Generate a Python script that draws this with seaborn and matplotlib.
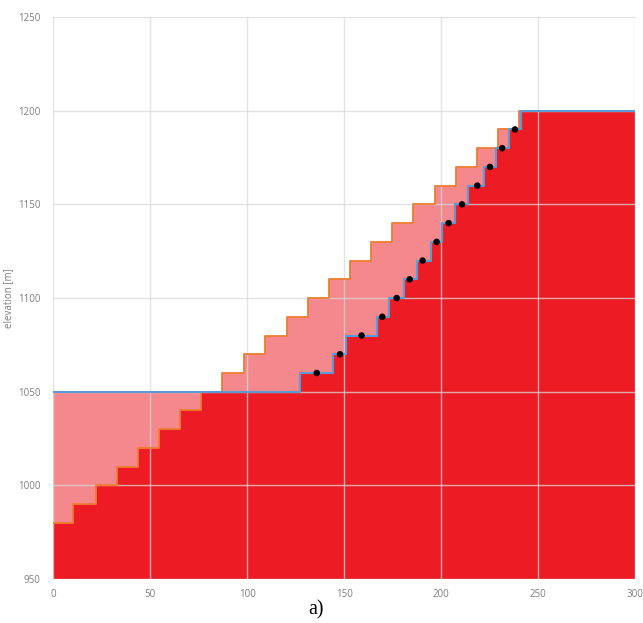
import numpy as np
import matplotlib
matplotlib.use("Agg")
import matplotlib.pyplot as plt
import seaborn as sns

# Bench staircase (orange): riser positions along the profile [m] and bench elevations [m]
bench_x = [0, 10.3, 21.8, 32.7, 43.5, 54.3, 65.5, 76.3, 87.1, 98.3, 109.3, 120.3,
           131.1, 142.1, 153.0, 163.6, 174.4, 185.2, 196.7, 207.5, 218.4, 229.4, 240.2, 300]
bench_z = [980, 990, 1000, 1010, 1020, 1030, 1040, 1050, 1060, 1070, 1080, 1090,
           1100, 1110, 1120, 1130, 1140, 1150, 1160, 1170, 1180, 1190, 1200, 1200]

# Final surface (blue)
final_x = [0, 127.2, 144.0, 150.7, 166.7, 173.2, 180.8, 187.7, 194.7, 200.5, 207.1,
           213.9, 222.0, 228.2, 234.9, 240.9, 300]
final_z = [1050, 1060, 1070, 1080, 1090, 1100, 1110, 1120, 1130, 1140, 1150,
           1160, 1170, 1180, 1190, 1200, 1200]

# Marked points on the final surface
point_x = [135.8, 147.8, 158.9, 169.6, 177.0, 183.7, 190.4, 197.6, 203.8, 210.7,
           218.6, 225.1, 231.4, 238.0]
point_z = [1060, 1070, 1080, 1090, 1100, 1110, 1120, 1130, 1140, 1150,
           1160, 1170, 1180, 1190]

x_ticks = [0, 50, 100, 150, 200, 250, 300]
y_ticks = [950, 1000, 1050, 1100, 1150, 1200, 1250]

DARK_RED = "#ed1c24"
PINK = "#f4888c"
ORANGE = "#ed7d31"
BLUE = "#5b9bd5"
GRID = "#d9d9d9"
TEXT = "#7f7f7f"

sns.set_theme(style="white")
plt.rcParams["font.family"] = ["Open Sans", "DejaVu Sans"]


def step_at(xs, zs, q):
    xs = np.asarray(xs)
    zs = np.asarray(zs)
    idx = np.searchsorted(xs, q, side="right") - 1
    return zs[np.clip(idx, 0, len(zs) - 1)]


grid_x = np.union1d(bench_x, final_x)
z_bench = step_at(bench_x, bench_z, grid_x)
z_final = step_at(final_x, final_z, grid_x)
z_low = np.minimum(z_bench, z_final)
z_high = np.maximum(z_bench, z_final)

fig = plt.figure(figsize=(6.43, 6.23), dpi=100)
ax = fig.add_axes([0.0829, 0.0706, 0.905, 0.902])

ax.fill_between(grid_x, y_ticks[0], z_low, step="post", color=DARK_RED, lw=0, zorder=1)
ax.fill_between(grid_x, z_low, z_high, step="post", color=PINK, lw=0, zorder=1)

sns.lineplot(x=bench_x, y=bench_z, ax=ax, color=ORANGE, lw=1.3,
             drawstyle="steps-post", estimator=None, sort=False, zorder=4)
sns.lineplot(x=final_x, y=final_z, ax=ax, color=BLUE, lw=1.5,
             drawstyle="steps-post", estimator=None, sort=False, zorder=4)
sns.scatterplot(x=point_x, y=point_z, ax=ax, color="black", s=22,
                edgecolor="none", zorder=5)

ax.set_xlim(x_ticks[0], x_ticks[-1])
ax.set_ylim(y_ticks[0], y_ticks[-1])
ax.set_xticks(x_ticks)
ax.set_yticks(y_ticks)
ax.set_axisbelow(False)
ax.grid(True, color=GRID, lw=1.0, alpha=0.75)
for s in ax.spines.values():
    s.set_visible(False)
ax.tick_params(axis="both", length=0, labelsize=7, labelcolor=TEXT)
ax.tick_params(axis="y", pad=9)
ax.tick_params(axis="x", pad=7)
ax.set_ylabel("elevation [m]", fontsize=7, color=TEXT, labelpad=3)
ax.set_xlabel("")

fig.text(316 / 643, 1 - 610 / 623, "a)", ha="center", va="center",
         family="Liberation Serif", fontsize=14.5, color="black")

fig.savefig("out.png", dpi=100)
